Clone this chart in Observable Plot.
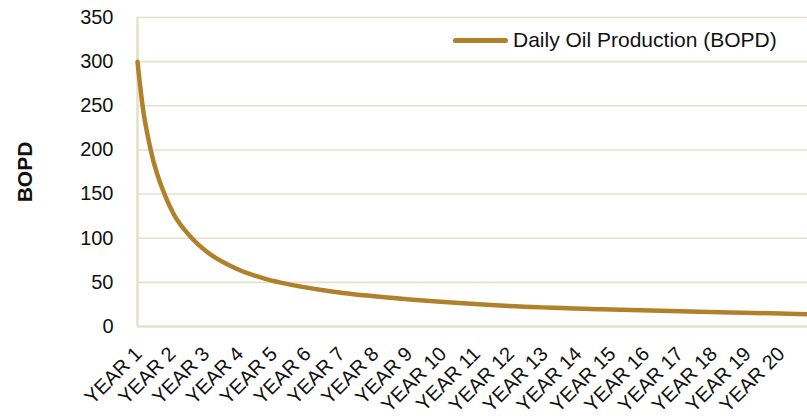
<!DOCTYPE html>
<html>
<head>
<meta charset="utf-8">
<script src="https://cdn.jsdelivr.net/npm/d3@7"></script>
<script src="https://cdn.jsdelivr.net/npm/@observablehq/plot@0.6"></script>
<style>
  html, body { margin: 0; padding: 0; background: #fff; }
  #wrap { position: relative; width: 807px; height: 419px; font-family: "Liberation Sans", Arial, sans-serif; }
  #legend { position: absolute; left: 453px; top: 28px; display: flex; align-items: center; font-size: 21px; color: #111; }
  #legend .sw { width: 55px; height: 5px; border-radius: 3px; background: #b0802b; margin-right: 5px; }
  [aria-label="y-axis label"] text { font-weight: bold; font-size: 21px; }
</style>
</head>
<body>
<div id="wrap">
  <div id="chart"></div>
  <div id="legend"><span class="sw"></span><span>Daily Oil Production (BOPD)</span></div>
</div>
<script>
// Position along the x axis (YEAR 1 = 1) and daily production
const yearPos = [1.0, 1.15, 1.39, 1.84, 2.06, 2.61, 3.05, 3.89, 4.83, 5.2, 6.79, 8.48, 11.44, 14.7, 17.6, 20.8];
const bopd    = [300, 250, 200, 146, 128, 100, 84.6, 66, 53.4, 50, 39.4, 32.5, 24.3, 19.6, 16.8, 14.0];
const yearTicks = d3.range(1, 21);
const yearLabels = yearTicks.map(d => "YEAR " + d);
const yTicks = [0, 50, 100, 150, 200, 250, 300, 350];
const seriesName = "Daily Oil Production (BOPD)";

const data = yearPos.map((x, i) => ({x, y: bopd[i]}));
const gridColor = "#e3e0cc";
const lineColor = "#b0802b";

const chart = Plot.plot({
  width: 807,
  height: 419,
  marginLeft: 137,
  marginRight: 0,
  marginTop: 17,
  marginBottom: 93,
  style: {fontFamily: '"Liberation Sans", Arial, sans-serif', fontSize: "20px", color: "#111", background: "transparent"},
  x: {domain: [1, 20.8]},
  y: {domain: [0, 350]},
  marks: [
    Plot.gridY(yTicks.filter(d => d > 0), {stroke: gridColor, strokeOpacity: 1, strokeWidth: 1.6}),
    Plot.ruleY([0], {stroke: gridColor, strokeWidth: 2.6}),
    Plot.ruleX([1], {stroke: gridColor, strokeWidth: 2.6}),
    Plot.axisY({ticks: yTicks, tickSize: 0, tickPadding: 24, fontSize: 20,
      label: "BOPD", labelAnchor: "center", labelArrow: "none", labelOffset: 120}),
    Plot.axisX({ticks: yearTicks, tickFormat: (d, i) => yearLabels[i], tickRotate: -45, tickSize: 0,
      tickPadding: 24, fontSize: 20, label: null, dx: 1}),
    Plot.line(data, {x: "x", y: "y", stroke: lineColor, strokeWidth: 4.5, curve: "monotone-x"})
  ]
});
document.getElementById("chart").appendChild(chart);
</script>
</body>
</html>
